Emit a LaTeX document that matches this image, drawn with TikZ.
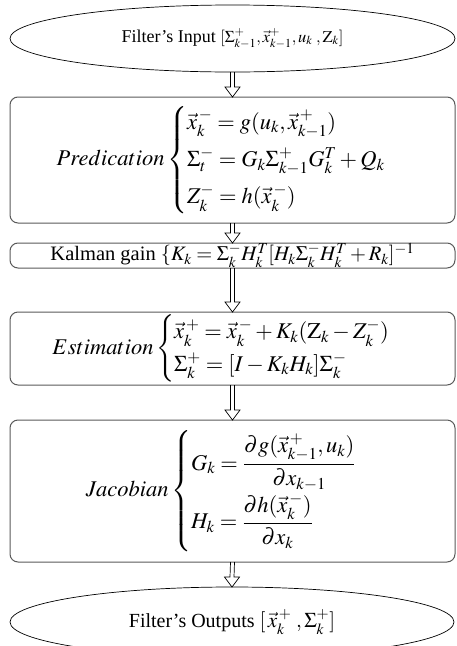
\documentclass[tikz,border=0pt]{standalone}
\usepackage{amsmath}
\usepackage{mathptmx}
\usepackage{graphicx}
\usepackage{fontspec}
\setmainfont{Liberation Serif}
\usetikzlibrary{shapes.geometric}
\newcommand{\bigmath}[1]{{\fontsize{22.5}{27}\selectfont$#1$}}
\tikzset{
  ellbox/.style={ellipse, draw=black, line width=0.7pt, inner sep=0pt, outer sep=0pt},
  rbox/.style={rectangle, rounded corners=8pt, draw=black!65, line width=1pt, inner sep=0pt, outer sep=0pt, minimum width=445pt},
  harrow/.style={draw=black, line width=0.7pt, line join=miter, to path={
    ([xshift=-2pt]\tikztostart) -- ([xshift=-2pt,yshift=10pt]\tikztotarget) --
    ([xshift=-7.5pt,yshift=10pt]\tikztotarget) -- (\tikztotarget) --
    ([xshift=7.5pt,yshift=10pt]\tikztotarget) -- ([xshift=2pt,yshift=10pt]\tikztotarget) --
    ([xshift=2pt]\tikztostart)}}
}
\begin{document}
\begin{tikzpicture}[x=1pt,y=-1pt,font=\fontsize{18}{21}\selectfont]
\useasboundingbox (0,0) rectangle (456,646);
\node[ellbox, minimum width=445pt, minimum height=67pt] (in) at (232.5,38.5)
  {Filter's Input {\fontsize{16.5}{20}\selectfont$[\Sigma_{k-1}^{+},\vec{x}_{k-1}^{+},u_k\;,\mathrm{Z}_k]$}};
\node[rbox, minimum height=126pt] (pred) at (232.5,160)
  {\bigmath{Predication\begin{cases}\vec{x}_k^{\,-}=g(u_k,\vec{x}_{k-1}^{\,+})\\[5pt]
   \Sigma_t^{-}=G_k\Sigma_{k-1}^{+}G_k^{T}+Q_k\\[5pt]
   Z_k^{-}=h(\vec{x}_k^{\,-})\end{cases}}};
\node[rbox, minimum height=25pt, font=\fontsize{20.5}{24}\selectfont] (kal) at (232.5,255.5)
  {Kalman gain $\{K_k=\Sigma_k^{-}H_k^{T}[H_k\Sigma_k^{-}H_k^{T}+R_k]^{-1}$};
\node[rbox, minimum height=73pt] (est) at (232.5,348.5)
  {\bigmath{Estimation\begin{cases}\vec{x}_k^{\,+}=\vec{x}_k^{\,-}+K_k(\mathrm{Z}_k-Z_k^{-})\\
   \Sigma_k^{+}=[I-K_kH_k]\Sigma_k^{-}\end{cases}}};
\node[rbox, minimum height=142pt] (jac) at (232.5,491)
  {\bigmath{Jacobian\begin{cases}G_k=\dfrac{\partial g(\vec{x}_{k-1}^{\,+},u_k)}{\partial x_{k-1}}\\[14pt]
   H_k=\dfrac{\partial h(\vec{x}_k^{\,-})}{\partial x_k}\end{cases}}};
\node[ellbox, minimum width=444pt, minimum height=70pt, font=\fontsize{20}{24}\selectfont] (out) at (232,622)
  {Filter's Outputs {\fontsize{21}{25}\selectfont$[\,\vec{x}_k^{\,+}\;,\Sigma_k^{+}]$}};
\draw[harrow] (in.south) to (pred.north);
\draw[harrow] (pred.south) to (kal.north);
\draw[harrow] (kal.south) to (est.north);
\draw[harrow] (est.south) to (jac.north);
\draw[harrow] (jac.south) to (out.north);
\end{tikzpicture}
\end{document}
